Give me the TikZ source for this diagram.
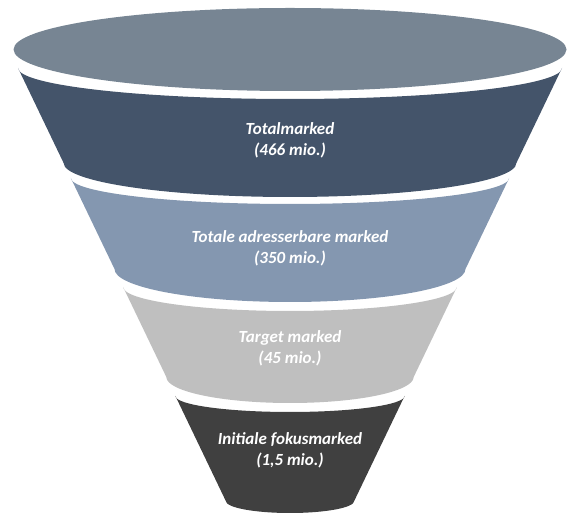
\documentclass[tikz,border=0pt]{standalone}
\usepackage{fontspec}
\setmainfont{Carlito}
\definecolor{topc}{HTML}{778593}
\definecolor{bandA}{HTML}{44546A}
\definecolor{bandB}{HTML}{8497B0}
\definecolor{bandC}{HTML}{BFBFBF}
\definecolor{bandD}{HTML}{404040}
\begin{document}
\begin{tikzpicture}[x=1pt,y=1pt,
  lbl/.style={text=white,font=\fontsize{17}{21}\selectfont\bfseries\itshape,align=center,inner sep=0pt}]
\useasboundingbox (0,0) rectangle (568,514);
% top ellipse
\fill[topc] (290,464.5) ellipse [x radius=276.5pt, y radius=41.5pt];
% band 1
\fill[bandA] (290-272,446) arc[start angle=180,end angle=360,x radius=272pt,y radius=31pt]
  -- (290+226.4,351) arc[start angle=0,end angle=-180,x radius=226.4pt,y radius=34pt] -- cycle;
% band 2
\fill[bandB] (290-219.2,336) arc[start angle=180,end angle=360,x radius=219.2pt,y radius=26pt]
  -- (290+175.5,245) arc[start angle=0,end angle=-180,x radius=175.5pt,y radius=33pt] -- cycle;
% band 3
\fill[bandC] (290-166.9,227) arc[start angle=180,end angle=360,x radius=166.9pt,y radius=24pt]
  -- (290+123.7,137) arc[start angle=0,end angle=-180,x radius=123.7pt,y radius=26pt] -- cycle;
% band 4
\fill[bandD] (290-114.6,118) arc[start angle=180,end angle=360,x radius=114.6pt,y radius=16pt]
  -- (290+64.2,13) arc[start angle=0,end angle=-180,x radius=64.2pt,y radius=12pt] -- cycle;
% labels
\node[lbl] (t1) at (290,373.5) {Totalmarked\\(466 mio.)};
\node[lbl] (t2) at (290,265.5) {Totale adresserbare marked\\(350 mio.)};
\node[lbl] (t3) at (290,165.5) {Target marked\\(45 mio.)};
\node[lbl] (t4) at (290,63.5) {Initiale fokusmarked\\(1,5 mio.)};
\end{tikzpicture}
\end{document}
